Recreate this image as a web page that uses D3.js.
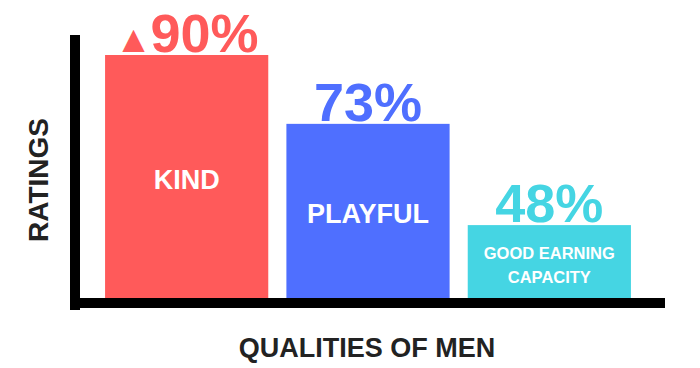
<!DOCTYPE html>
<html>
<head>
<meta charset="utf-8">
<script src="https://cdn.jsdelivr.net/npm/d3@7"></script>
<style>
  html, body { margin: 0; padding: 0; background: #fff; }
  svg { display: block; font-family: "Liberation Sans", Arial, sans-serif; }
</style>
</head>
<body>
<svg id="visualization" width="700" height="368"></svg>
<script>
const qualities = ["KIND", "PLAYFUL", "GOOD EARNING CAPACITY"];
const ratings = [90, 73, 48];
const barLines = [["KIND"], ["PLAYFUL"], ["GOOD EARNING", "CAPACITY"]];
const colours = ["#ff5a5a", "#4f6fff", "#45d5e3"];
const xTitle = "QUALITIES OF MEN";
const yTitle = "RATINGS";

const data = qualities.map((q, i) => ({ quality: q, rating: ratings[i], lines: barLines[i], colour: colours[i] }));

const setupVisualization = () => {
    const svg = d3.select("#visualization");
    const baseline = 298;

    const xScale = d3.scaleBand().domain(qualities).range([96, 640]).paddingInner(0.1).paddingOuter(0.05);
    const yScale = d3.scaleLinear().domain([30, 90]).range([baseline, 55]);

    // bars
    svg.selectAll("rect.bar")
        .data(data)
        .join("rect")
        .attr("class", "bar")
        .attr("x", d => xScale(d.quality))
        .attr("y", d => yScale(d.rating))
        .attr("width", xScale.bandwidth())
        .attr("height", d => baseline - yScale(d.rating))
        .attr("fill", d => d.colour);

    // axes drawn as thick black bars
    svg.append("rect").attr("x", 70).attr("y", 35).attr("width", 10).attr("height", 275).attr("fill", "#000");
    svg.append("rect").attr("x", 70).attr("y", baseline).attr("width", 595).attr("height", 10).attr("fill", "#000");

    // value labels above bars
    const values = svg.selectAll("text.value")
        .data(data)
        .join("text")
        .attr("class", "value")
        .attr("x", d => xScale(d.quality) + xScale.bandwidth() / 2)
        .attr("y", d => yScale(d.rating) - 3)
        .attr("text-anchor", "middle")
        .attr("font-size", 54)
        .attr("font-weight", 700)
        .attr("fill", d => d.colour);

    values.each(function(d, i) {
        const t = d3.select(this);
        if (i === 0) {
            t.append("tspan").attr("font-size", 38).text("▲");
            t.append("tspan").attr("dx", -2).text(d.rating + "%");
        } else {
            t.append("tspan").text(d.rating + "%");
        }
    });

    // labels inside bars, centred vertically
    svg.selectAll("text.inner")
        .data(data)
        .join("text")
        .attr("class", "inner")
        .attr("text-anchor", "middle")
        .attr("font-weight", 700)
        .attr("fill", "#fff")
        .attr("font-size", d => d.lines.length > 1 ? 16.5 : 27)
        .each(function(d) {
            const cx = xScale(d.quality) + xScale.bandwidth() / 2;
            const mid = (yScale(d.rating) + baseline) / 2;
            const step = 24;
            const first = mid + (d.lines.length > 1 ? 9 - step / 2 : 12);
            d3.select(this).selectAll("tspan")
                .data(d.lines)
                .join("tspan")
                .attr("x", cx)
                .attr("y", (l, j) => first + j * step)
                .text(l => l);
        });

    svg.append("text")
        .attr("x", 367)
        .attr("y", 357)
        .attr("text-anchor", "middle")
        .attr("font-size", 27)
        .attr("font-weight", 700)
        .attr("fill", "#222")
        .text(xTitle);

    svg.append("text")
        .attr("transform", "translate(48, 180) rotate(-90)")
        .attr("text-anchor", "middle")
        .attr("font-size", 28)
        .attr("font-weight", 700)
        .attr("fill", "#222")
        .text(yTitle);
};

setupVisualization();
</script>
</body>
</html>
